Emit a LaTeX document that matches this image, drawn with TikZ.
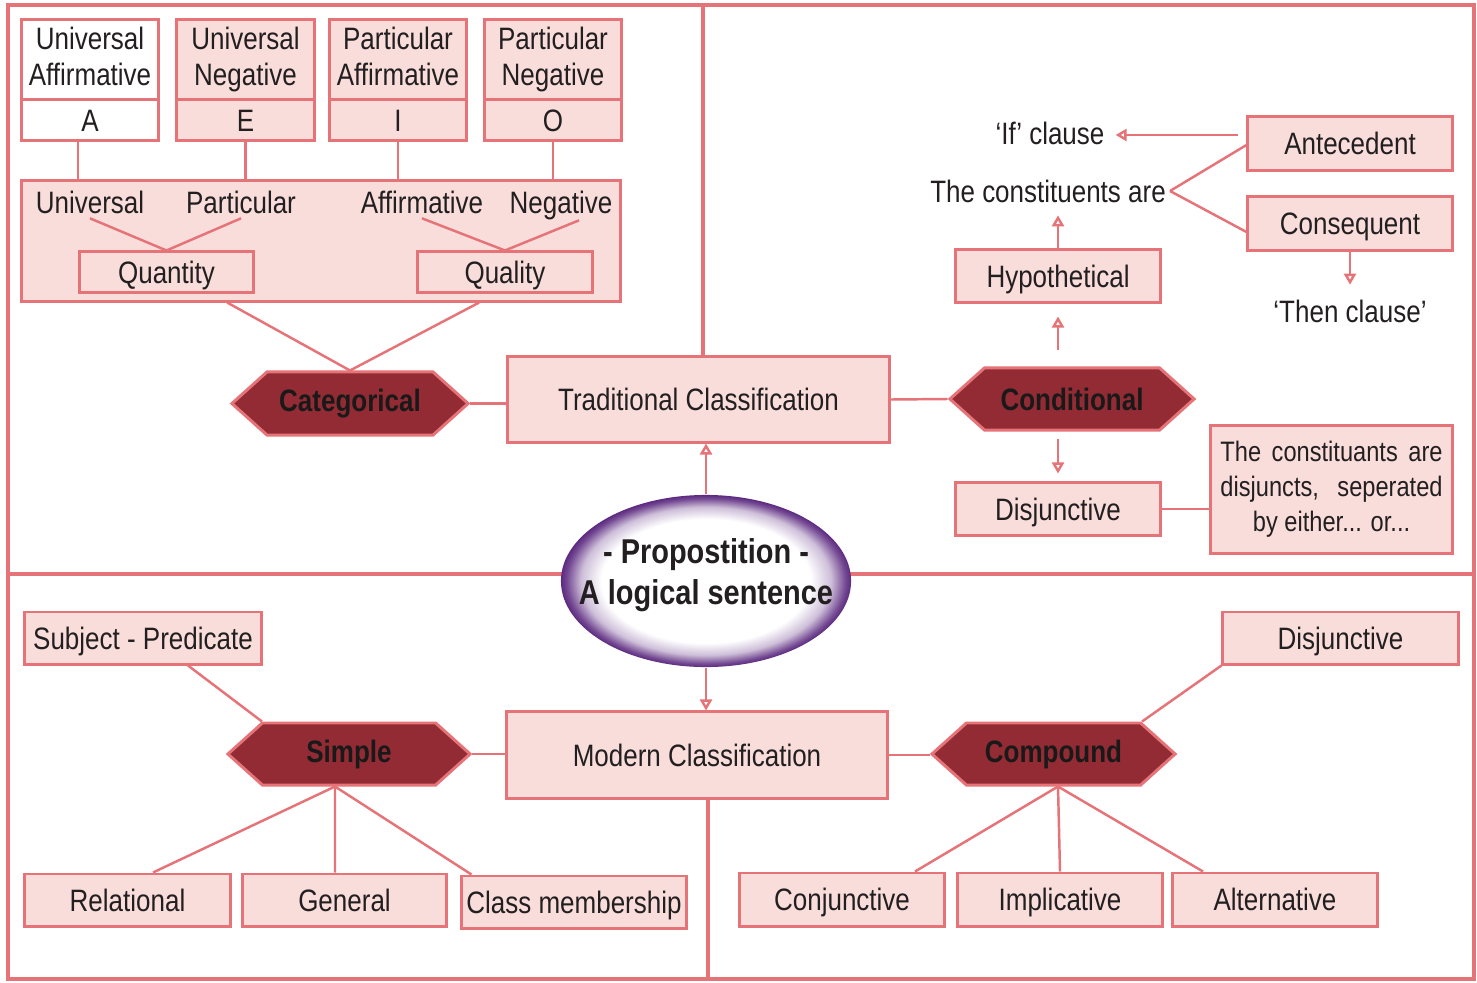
\documentclass[tikz,border=0pt]{standalone}
\usepackage{fontspec}
\setmainfont{Liberation Sans}[FakeStretch=0.84]
\usetikzlibrary{shapes.geometric,shapes.symbols,arrows.meta,calc}

\definecolor{edgepink}{RGB}{229,115,120}
\definecolor{fillpink}{RGB}{248,221,219}
\definecolor{hexred}{RGB}{146,43,52}
\definecolor{inkgray}{RGB}{35,31,32}
\definecolor{propviolet}{RGB}{92,42,128}

\newcommand\cellstrut{\rule[-2pt]{0pt}{10.3pt}}

\pgfdeclareradialshading{propshade}{\pgfpoint{0bp}{0bp}}{color(0bp)=(white); color(18bp)=(white); color(21.5bp)=(propviolet!30); color(24bp)=(propviolet!85); color(25bp)=(propviolet); color(50bp)=(propviolet)}

\tikzset{
  txt/.style={font=\fontsize{8.8}{10.2}\selectfont, text=inkgray, align=center, inner sep=1pt,
    execute at begin node=\cellstrut, execute at end node=\cellstrut},
  cell/.style={txt, draw=edgepink, fill=fillpink, line width=0.85pt, inner sep=0pt},
  hexa/.style={signal, signal to=west and east, signal pointer angle=84, draw=edgepink, fill=hexred, line width=0.85pt, font=\bfseries\fontsize{8.8}{10}\selectfont, text=black!90, inner sep=0pt},
  link/.style={draw=edgepink, line width=0.7pt},
  pointer/.style={link, -{Triangle[open, length=1.1mm, width=1.2mm, line width=0.7pt]}},
  frame/.style={draw=edgepink, line width=1.4pt},
}

\begin{document}
\begin{tikzpicture}[x=0.01cm, y=-0.01cm]
\useasboundingbox (0, 0) rectangle (1477, 982);

\draw [frame] (8, 5) rectangle (1474, 979);
\draw [frame] (703, 5) -- (703, 357);
\draw [frame] (8, 574) -- (1474, 574);
\draw [frame] (708, 798) -- (708, 979);

\node (uaTop) at (90, 60) [cell, fill=white, minimum width=1.36cm, minimum height=0.8cm] {Universal\\Affirmative};
\node (uaBot) at (90, 120) [cell, fill=white, minimum width=1.36cm, minimum height=0.4cm] {A};
\node (unTop) at (245.5, 60) [cell, minimum width=1.37cm, minimum height=0.8cm] {Universal\\Negative};
\node (unBot) at (245.5, 120) [cell, minimum width=1.37cm, minimum height=0.4cm] {E};
\node (paTop) at (398, 60) [cell, minimum width=1.36cm, minimum height=0.8cm] {Particular\\Affirmative};
\node (paBot) at (398, 120) [cell, minimum width=1.36cm, minimum height=0.4cm] {I};
\node (pnTop) at (553, 60) [cell, minimum width=1.36cm, minimum height=0.8cm] {Particular\\Negative};
\node (pnBot) at (553, 120) [cell, minimum width=1.36cm, minimum height=0.4cm] {O};

\node (attr) at (321, 241) [cell, minimum width=5.98cm, minimum height=1.2cm] {};
\node (uni) at (90, 202) [txt] {Universal};
\node (par) at (241, 202) [txt] {Particular};
\node (aff) at (422, 202) [txt] {Affirmative};
\node (neg) at (561, 202) [txt] {Negative};
\node (quant) at (166.5, 272) [cell, minimum width=1.73cm, minimum height=0.4cm] {Quantity};
\node (qual) at (505, 272) [cell, minimum width=1.74cm, minimum height=0.4cm] {Quality};

\draw [link] ([xshift=-0.12cm]uaBot.south) -- ([xshift=-0.12cm]uaBot.south |- attr.north);
\draw [link] (unBot.south) -- (unBot.south |- attr.north);
\draw [link] (paBot.south) -- (paBot.south |- attr.north);
\draw [link] (pnBot.south) -- (pnBot.south |- attr.north);
\draw [link] ([yshift=0.06cm]uni.south) -- (quant.north);
\draw [link] ([yshift=0.06cm]par.south) -- (quant.north);
\draw [link] ([yshift=0.06cm]aff.south) -- (qual.north);
\draw [link] ([xshift=0.18cm, yshift=0.04cm]neg.south) -- (qual.north);

\node (cat) at (350, 403.5) [hexa, minimum width=2.36cm, minimum height=0.63cm] {Categorical};
\draw [link] ($(attr.south west)!0.344!(attr.south east)$) -- (cat.north);
\draw [link] ($(attr.south west)!0.763!(attr.south east)$) -- (cat.north);

\node (trad) at (698.5, 399.5) [cell, minimum width=3.81cm, minimum height=0.85cm] {Traditional Classification};
\draw [link] (cat.east) -- (cat.east -| trad.west);
\node (cond) at (1072, 399) [hexa, minimum width=2.44cm, minimum height=0.62cm] {Conditional};
\draw [link] (trad.east) -- (cond.west);

\node (hypo) at (1058, 276) [cell, minimum width=2.04cm, minimum height=0.52cm] {Hypothetical};
\draw [pointer, shorten <=0.16cm, shorten >=0.13cm] (hypo.south |- cond.north) -- (hypo.south);
\node (consti) at (1048, 191) [txt] {The constituents are};
\draw [pointer, shorten >=0.02cm] (hypo.north) -- (hypo.north |- consti.south);
\node (ifcl) at (1050, 133) [txt] {‘If’ clause};
\node (ante) at (1350, 143.5) [cell, minimum width=2.04cm, minimum height=0.53cm] {Antecedent};
\node (conseq) at (1350, 223.5) [cell, minimum width=2.04cm, minimum height=0.53cm] {Consequent};
\coordinate (anteIn) at ($(ante.west)+(0, -8.5)$);
\draw [pointer, shorten <=0.08cm, shorten >=0.07cm] (anteIn) -- (anteIn -| ifcl.east);
\draw [link] (consti.east) -- ($(ante.west)+(0, 1.5)$);
\draw [link] (consti.east) -- ($(conseq.west)+(0, 8.5)$);
\node (thencl) at (1350, 311) [txt] {‘Then clause’};
\draw [pointer, shorten >=0.04cm] (conseq.south) -- (conseq.south |- thencl.north);

\node (disj) at (1058, 509) [cell, minimum width=2.04cm, minimum height=0.52cm] {Disjunctive};
\draw [pointer, shorten <=0.07cm, shorten >=0.08cm] (disj.north |- cond.south) -- (disj.north);
\node (disjnote) at (1331.5, 489.5) [cell, minimum width=2.41cm, minimum height=1.27cm, font=\fontsize{8}{9.96}\selectfont] {\makebox[2.22cm][s]{The constituants are}\\\makebox[2.22cm][s]{disjuncts, seperated}\\by either... or...};
\draw [link] (disj.east) -- (disj.east -| disjnote.west);

\node (prop) at (706, 581) [ellipse, minimum width=2.9cm, minimum height=1.72cm, shade, shading=propshade] {};
\node (propText) at (706, 575) [font=\bfseries\fontsize{9.8}{11.7}\selectfont, text=inkgray, align=center] {- Propostition -\\A logical sentence};
\draw [pointer] (prop.north) -- (prop.north |- trad.south);

\node (modern) at (697, 755) [cell, minimum width=3.8cm, minimum height=0.86cm] {Modern Classification};
\draw [pointer] (prop.south) -- (prop.south |- modern.north);

\node (simple) at (349, 754) [hexa, minimum width=2.42cm, minimum height=0.62cm] {Simple};
\draw [link] (simple.east) -- (simple.east -| modern.west);
\node (subj) at (143, 638) [cell, minimum width=2.36cm, minimum height=0.52cm] {Subject - Predicate};
\draw [link] ([xshift=0.45cm]subj.south) -- ([xshift=-0.87cm]simple.north);
\node (rel) at (127.5, 900) [cell, minimum width=2.05cm, minimum height=0.52cm] {Relational};
\node (gen) at (344.5, 900) [cell, minimum width=2.03cm, minimum height=0.52cm] {General};
\node (cls) at (574, 902) [cell, minimum width=2.24cm, minimum height=0.52cm] {Class membership};
\draw [link] ([xshift=-0.14cm]simple.south) -- ([xshift=0.255cm]rel.north);
\draw [link] ([xshift=-0.14cm]simple.south) -- ([xshift=-0.095cm]gen.north);
\draw [link] ([xshift=-0.14cm]simple.south) -- ([xshift=0.11cm]cls.north west);

\node (comp) at (1053.5, 754) [hexa, minimum width=2.43cm, minimum height=0.62cm] {Compound};
\draw [link] (modern.east) -- (modern.east -| comp.west);
\node (disjb) at (1340.5, 638) [cell, minimum width=2.35cm, minimum height=0.52cm] {Disjunctive};
\draw [link] ([xshift=0.885cm]comp.north) -- (disjb.south west);
\node (conj) at (842, 899.5) [cell, minimum width=2.04cm, minimum height=0.53cm] {Conjunctive};
\node (impl) at (1060, 899.5) [cell, minimum width=2.04cm, minimum height=0.53cm] {Implicative};
\node (alt) at (1275, 899.5) [cell, minimum width=2.04cm, minimum height=0.53cm] {Alternative};
\draw [link] ([xshift=0.045cm]comp.south) -- ([xshift=0.73cm]conj.north);
\draw [link] ([xshift=0.045cm]comp.south) -- (impl.north);
\draw [link] ([xshift=0.045cm]comp.south) -- ([xshift=-0.72cm]alt.north);
\end{tikzpicture}
\end{document}
